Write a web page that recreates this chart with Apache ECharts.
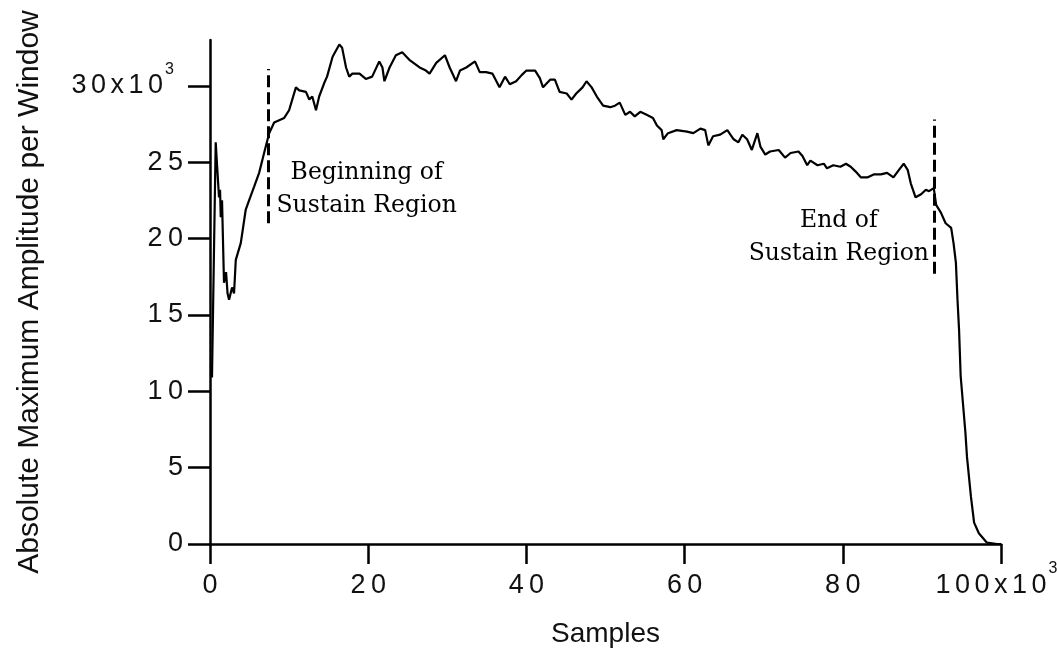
<!DOCTYPE html>
<html>
<head>
<meta charset="utf-8">
<script src="https://cdn.jsdelivr.net/npm/echarts@6/dist/echarts.min.js"></script>
<style>html,body{margin:0;padding:0;background:#fff}#c{width:1057px;height:649px}</style>
</head>
<body>
<div id="c"></div>
<script>
// Samples (x10^3) and absolute maximum amplitude per window (x10^3)
const samplesK = [0.25,0.72,1.14,1.27,1.36,1.52,1.77,2.03,2.22,2.41,
 2.79,3.04,3.26,3.89,4.52,4.94,5.58,6.21,6.84,7.48,
 8.11,9.38,10.0,10.86,11.28,12.13,12.55,12.93,13.4,13.8,
 14.45,14.8,15.5,16.35,16.7,17.2,17.6,18.0,18.9,19.7,
 20.5,21.4,21.8,22.05,22.7,23.5,24.3,25.2,26.5,27.3,
 27.76,28.6,29.7,30.3,31.1,31.6,32.4,33.5,34.1,34.9,
 35.7,36.6,37.3,37.9,38.7,39.4,40.0,41.1,41.7,42.1,
 43.0,43.6,44.2,45.1,45.7,46.3,47.1,47.6,48.25,48.9,
 49.7,50.6,51.2,51.8,52.5,53.1,53.7,54.4,55.2,56.0,
 56.5,57.1,57.3,57.9,59.0,60.3,61.1,62.0,62.6,63.0,
 63.6,64.5,65.4,66.2,66.8,67.3,67.9,68.5,69.2,69.6,
 70.2,70.8,71.9,72.7,73.4,74.4,74.9,75.5,75.9,76.8,
 77.6,78.0,78.8,79.7,80.4,81.0,81.6,82.3,83.1,83.9,
 84.8,85.6,86.4,87.1,87.7,88.2,88.6,89.2,89.9,90.5,
 90.9,91.5,91.8,92.4,93.0,93.7,94.0,94.3,94.5,94.7,
 94.9,95.5,95.7,96.2,96.6,97.2,98.2,99.5,100.0];
const amplitudeK = [10.9,26.3,22.7,23.2,21.4,22.5,17.1,17.8,16.4,16.0,
 16.8,16.4,18.6,19.7,21.9,22.5,23.4,24.3,25.6,26.9,
 27.6,27.9,28.4,29.9,29.7,29.6,29.1,29.3,28.4,29.3,
 30.2,30.6,31.9,32.7,32.5,31.2,30.6,30.8,30.8,30.45,
 30.6,31.6,31.2,30.3,31.2,32.0,32.2,31.7,31.2,31.0,
 30.8,31.5,32.0,31.2,30.3,31.0,31.2,31.6,30.9,30.9,
 30.8,29.9,30.6,30.1,30.3,30.7,31.0,31.0,30.5,29.9,
 30.4,30.4,29.6,29.5,29.1,29.5,29.9,30.3,29.9,29.3,
 28.7,28.6,28.7,28.9,28.1,28.3,28.0,28.3,28.1,27.9,
 27.4,27.1,26.5,26.9,27.1,27.0,26.9,27.2,27.1,26.1,
 26.7,26.8,27.1,26.5,26.3,26.8,26.5,25.8,26.9,26.0,
 25.5,25.7,25.8,25.3,25.6,25.7,25.4,24.8,25.1,24.8,
 24.9,24.6,24.8,24.7,24.9,24.7,24.4,24.0,24.0,24.2,
 24.2,24.3,24.0,24.5,24.9,24.5,23.6,22.7,22.9,23.2,
 23.1,23.3,22.2,21.7,21.0,20.7,19.7,18.4,16.0,14.0,
 11.0,7.3,5.7,3.1,1.4,0.7,0.1,0,0];

// Ticks
const xTickValues = [0, 20, 40, 60, 80, 100];
const xTickLabels = ['0', '2\u20090', '4\u20090', '6\u20090', '8\u20090', '1\u20060\u20060\u2006x\u20061\u20060'];
const yTickValues = [0, 5, 10, 15, 20, 25, 30];
const yTickLabels = ['0', '5', '1\u20090', '1\u20095', '2\u20090', '2\u20095', '3\u20060\u2006x\u20061\u20060'];
const tickExponent = '3';

// Sustain region markers
const markerX = [7.35, 91.6];
const markerYFrom = [21.0, 17.7];
const markerYTo = [31.1, 27.8];
const noteText = ['Beginning of\nSustain Region', 'End of\nSustain Region'];
const noteX = [19.8, 79.5];
const noteY = [23.2, 20.1];

const FONT = 'Liberation Sans, Arial, Helvetica, sans-serif';
const INK = '#111';
const rich = {
  n: { fontSize: 27, lineHeight: 27, fontFamily: FONT, color: INK, padding: [11, 0, 11, 0] },
  s: { fontSize: 16, lineHeight: 16, fontFamily: FONT, color: INK, padding: [0, 9, 33, 2] }
};
function fmt(values, labels) {
  return function (v) {
    const i = values.indexOf(v);
    if (i < 0) return '';
    let s = '{n|' + labels[i] + '}';
    if (i === values.length - 1) s += '{s|' + tickExponent + '}';
    return s;
  };
}

const chart = echarts.init(document.getElementById('c'), null, { renderer: 'canvas' });
chart.setOption({
  animation: false,
  backgroundColor: '#fff',
  grid: { left: 210, right: 56, top: 40, bottom: 105, containLabel: false, outerBoundsMode: 'none' },
  xAxis: {
    type: 'value', min: 0, max: 100, interval: 20,
    name: 'Samples', nameLocation: 'middle', nameGap: 76,
    nameTextStyle: { fontFamily: FONT, fontSize: 28, color: INK },
    axisLine: { show: true, lineStyle: { color: '#000', width: 2.5 } },
    axisTick: { show: true, inside: false, length: 20, lineStyle: { color: '#000', width: 2.5 } },
    axisLabel: { margin: 28, formatter: fmt(xTickValues, xTickLabels), rich: rich, color: INK },
    splitLine: { show: false }
  },
  yAxis: {
    type: 'value', min: 0, max: 33, interval: 5,
    name: 'Absolute Maximum Amplitude per Window', nameLocation: 'middle', nameGap: 165,
    nameTextStyle: { fontFamily: FONT, fontSize: 30, color: INK },
    axisLine: { show: true, lineStyle: { color: '#000', width: 2.5 } },
    axisTick: { show: true, inside: false, length: 22, customValues: yTickValues, lineStyle: { color: '#000', width: 2.5 } },
    axisLabel: { margin: 27, customValues: yTickValues, formatter: fmt(yTickValues, yTickLabels), rich: rich, color: INK },
    splitLine: { show: false }
  },
  series: [
    {
      type: 'line',
      data: samplesK.map((x, i) => [x, amplitudeK[i]]),
      showSymbol: false, symbol: 'none',
      lineStyle: { color: '#000', width: 2.2 },
      markLine: {
        silent: true, symbol: 'none', label: { show: false },
        lineStyle: { color: '#000', width: 3, type: [12, 5] },
        data: markerX.map((x, i) => [{ coord: [x, markerYFrom[i]] }, { coord: [x, markerYTo[i]] }])
      }
    },
    {
      type: 'scatter',
      symbol: 'circle', symbolSize: 1, silent: true,
      itemStyle: { color: 'rgba(0,0,0,0)' },
      data: noteX.map((x, i) => [x, noteY[i], noteText[i]]),
      label: {
        show: true, position: 'inside',
        formatter: p => p.data[2],
        fontFamily: 'DejaVu Serif, serif', fontSize: 23.5, lineHeight: 33,
        color: '#000', textBorderWidth: 0, opacity: 1, align: 'center', verticalAlign: 'middle'
      }
    }
  ]
});
</script>
</body>
</html>
